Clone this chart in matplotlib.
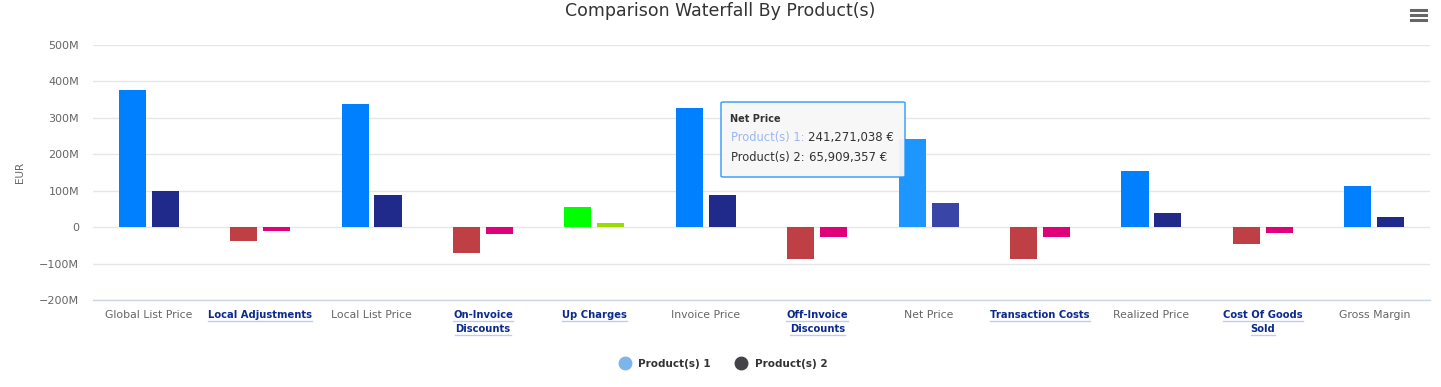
import matplotlib
matplotlib.use("Agg")
import matplotlib.pyplot as plt
import numpy as np
from matplotlib.lines import Line2D
from matplotlib.patches import FancyBboxPatch

categories = ["Global List Price", "Local Adjustments", "Local List Price",
              "On-Invoice\nDiscounts", "Up Charges", "Invoice Price",
              "Off-Invoice\nDiscounts", "Net Price", "Transaction Costs",
              "Realized Price", "Cost Of Goods\nSold", "Gross Margin"]
is_total = [True, False, True, False, False, True, False, True, False, True, False, True]
product1 = [376e6, -39e6, 337e6, -72e6, 54e6, 326e6, -87e6, 241271038, -87e6, 155e6, -45e6, 114e6]
product2 = [100e6, -11.5e6, 89.5e6, -20e6, 12.4e6, 87e6, -26e6, 65909357, -26e6, 40e6, -15e6, 29e6]
series_names = ["Product(s) 1", "Product(s) 2"]
y_ticks = [-200e6, -100e6, 0, 100e6, 200e6, 300e6, 400e6, 500e6]
y_tick_labels = ["−200M", "−100M", "0", "100M", "200M", "300M", "400M", "500M"]
hovered = "Net Price"

plt.rcParams['font.family'] = ['DejaVu Sans']

W, H = 1441, 387
fig = plt.figure(figsize=(W / 100, H / 100), dpi=100)
ax = fig.add_axes([93 / W, (H - 300) / H, (1430 - 93) / W, (300 - 45) / H])

colors = {
    0: {"total": "#0080FF", "neg": "#BF4044", "pos": "#00FF00", "hover": "#1E96FF"},
    1: {"total": "#1F2A8A", "neg": "#E0007A", "pos": "#99DD00", "hover": "#3A45A8"},
}

x = np.arange(len(categories))
bw = 0.243
offs = [-0.148, 0.148]
for si, vals in enumerate([product1, product2]):
    cols = []
    for i, v in enumerate(vals):
        if categories[i] == hovered:
            cols.append(colors[si]["hover"])
        elif is_total[i]:
            cols.append(colors[si]["total"])
        elif v < 0:
            cols.append(colors[si]["neg"])
        else:
            cols.append(colors[si]["pos"])
    ax.bar(x + offs[si], vals, width=bw, color=cols, zorder=3, linewidth=0)

ax.set_xlim(-0.5, len(categories) - 0.5)
ax.set_ylim(-200e6, 500e6)
ax.set_yticks(y_ticks)
ax.set_yticklabels(y_tick_labels)
ax.tick_params(axis='y', length=0, labelsize=8, labelcolor="#666666", pad=10)
ax.set_xticks([])
ax.grid(axis='y', color="#e6e6e6", linewidth=1, zorder=0)
for s in ["top", "right", "left"]:
    ax.spines[s].set_visible(False)
ax.spines["bottom"].set_color("#ccd6eb")
ax.spines["bottom"].set_linewidth(1)
ax.set_ylabel("EUR", color="#666666", fontsize=7.5)
ax.yaxis.set_label_coords((25 - 93) / (1430 - 93), 0.5)

# category labels
label_texts = []
for i, cat in enumerate(categories):
    lines = cat.split("\n")
    for li, line in enumerate(lines):
        if is_total[i]:
            t = ax.annotate(line, xy=(x[i], 0), xycoords=('data', 'axes fraction'),
                            xytext=(0, -10.8 - li * 10.1), textcoords='offset points',
                            ha='center', va='center', fontsize=7.8, color="#666666")
        else:
            t = ax.annotate(line, xy=(x[i], 0), xycoords=('data', 'axes fraction'),
                            xytext=(0, -10.8 - li * 10.1), textcoords='offset points',
                            ha='center', va='center', fontsize=7.2, color="#0D2B8E",
                            fontweight='bold')
            label_texts.append(t)

fig.text(0.5, 1 - 11 / H, "Comparison Waterfall By Product(s)", ha='center', va='center',
         fontsize=12.5, color="#333333")

# legend
handles = [Line2D([], [], marker='o', linestyle='none', markersize=9, color="#7CB5EC"),
           Line2D([], [], marker='o', linestyle='none', markersize=9, color="#434348")]
leg = fig.legend(handles, series_names, loc='center', bbox_to_anchor=(723 / W, 1 - 364 / H),
                 ncol=2, frameon=False, handletextpad=0.68, columnspacing=2.3,
                 handlelength=1.2, prop={'weight': 'bold', 'size': 7.5})
for t in leg.get_texts():
    t.set_color("#333333")

# hamburger menu icon
for yy in [10, 15, 20]:
    fig.add_artist(Line2D([1411 / W, 1426 / W], [1 - yy / H, 1 - yy / H], color="#666666",
                          linewidth=2.2))

# tooltip
bx0, by0, bx1, by1 = 721, 102, 905, 177
box = FancyBboxPatch((bx0 / W, 1 - by1 / H), (bx1 - bx0) / W, (by1 - by0) / H,
                     boxstyle="round,pad=0,rounding_size=0.002", transform=fig.transFigure,
                     facecolor="#F7F7F7", edgecolor="#1E96FF", linewidth=1, alpha=0.95, zorder=10)
fig.add_artist(box)
fig.text(730 / W, 1 - 119 / H, hovered, fontsize=7, fontweight='bold', color="#333333",
         va='center', zorder=11)
idx = categories.index(hovered)
t1 = fig.text(731 / W, 1 - 138 / H, series_names[0] + ":", fontsize=8.3, color="#9BB8F0",
              va='center', zorder=11)
t2 = fig.text(731 / W, 1 - 158 / H, series_names[1] + ":", fontsize=8.3, color="#333333",
              va='center', zorder=11)

fig.canvas.draw()
r = fig.canvas.get_renderer()
for t, val in [(t1, product1[idx]), (t2, product2[idx])]:
    e = t.get_window_extent(r)
    fig.text((e.x1 + 4) / W, t.get_position()[1], f"{val:,.0f} €", fontsize=8.5,
             color="#333333", va='center', zorder=11)

for t in label_texts:
    e = t.get_window_extent(r)
    fig.add_artist(Line2D([e.x0 / W, e.x1 / W], [(e.y0 - 0.5) / H, (e.y0 - 0.5) / H],
                          color="#BFCDEB", linewidth=1))

fig.savefig("out.png", dpi=100, facecolor="white")
